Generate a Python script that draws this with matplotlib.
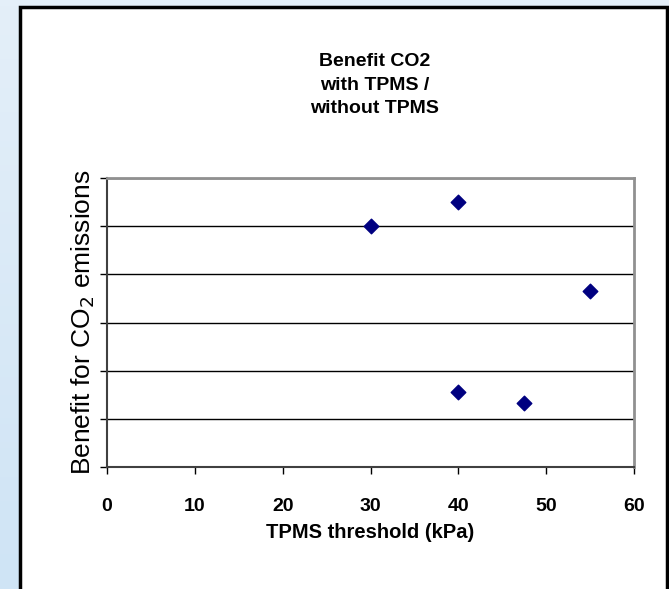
import numpy as np
from matplotlib import pyplot as plt
from matplotlib.colors import LinearSegmentedColormap
from matplotlib.patches import Rectangle

# Data.
threshold = [30, 40, 55, 40, 47.5]
benefit = [5.0, 5.5, 3.65, 1.55, 1.33]
x_ticks = [0, 10, 20, 30, 40, 50, 60]

plt.rcParams['font.family'] = ['Liberation Sans', 'DejaVu Sans']

fig = plt.figure(figsize=(6.69, 5.89), dpi=100)
W, H = 669, 589

# Light blue gradient background.
bg = fig.add_axes([0, 0, 1, 1], zorder=-2)
grad = np.linspace(0, 1, 100).reshape(-1, 1) * np.ones((1, 2))
bg.imshow(grad, cmap=LinearSegmentedColormap.from_list(
    'bg', ['#e4eff9', '#cfe4f5']), aspect='auto', extent=[0, 1, 0, 1])
bg.set_xlim(0, 1)
bg.set_ylim(0, 1)
bg.axis('off')

# White chart panel with black border.
panel = Rectangle((20 / W, -0.05), (667 - 20) / W, 1.05 - 7 / H,
                  transform=fig.transFigure, facecolor='white',
                  edgecolor='black', linewidth=2.5, zorder=-1)
fig.patches.append(panel)

ax = fig.add_axes([107 / W, 1 - 467 / H, (634 - 107) / W, (467 - 178) / H])
ax.set_facecolor('white')
ax.scatter(threshold, benefit, marker='D', s=55, color='#000080', zorder=3)

ax.set_xlim(0, 60)
ax.set_ylim(0, 6)
ax.set_xticks(x_ticks)
ax.set_xticklabels([str(t) for t in x_ticks], fontsize=14, fontweight='bold')
ax.set_yticks(range(7))
ax.set_yticklabels([])
ax.tick_params(axis='x', length=5, width=1, color='black', pad=17)
ax.tick_params(axis='y', length=5, width=1, color='black')
ax.yaxis.grid(True, color='black', linewidth=1)
ax.set_axisbelow(True)

for side in ['top', 'right']:
    ax.spines[side].set_color('#909090')
    ax.spines[side].set_linewidth(2)
for side in ['left', 'bottom']:
    ax.spines[side].set_color('#404040')
    ax.spines[side].set_linewidth(1.5)

ax.set_xlabel('TPMS threshold (kPa)', fontsize=14.5, fontweight='bold',
              labelpad=6)
ax.set_ylabel('Benefit for CO$_2$ emissions', fontsize=19, labelpad=-1)

fig.text(375 / W, 1 - 85 / H, 'Benefit CO2\nwith TPMS /\nwithout TPMS',
         ha='center', va='center', fontsize=14, fontweight='bold',
         linespacing=1.5)

fig.savefig('out.png', dpi=100)
